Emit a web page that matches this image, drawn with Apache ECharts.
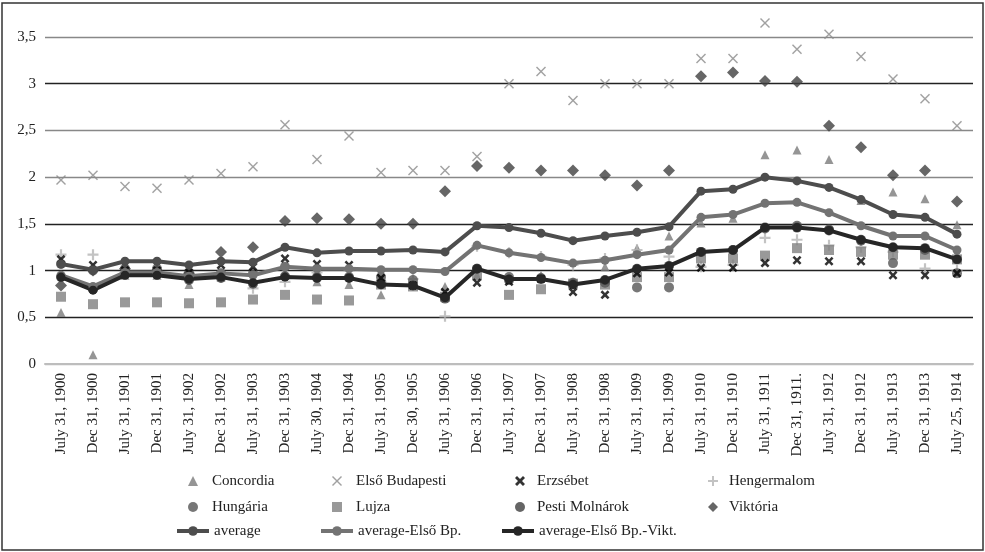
<!DOCTYPE html>
<html>
<head>
<meta charset="utf-8">
<script src="https://cdn.jsdelivr.net/npm/echarts@6/dist/echarts.min.js"></script>
<style>
  html, body { margin: 0; padding: 0; background: #fff; }
  #chart { width: 985px; height: 552px; }
</style>
</head>
<body>
<div id="chart"></div>
<script>
// dates of the balance sheets
const dates = ['July 31, 1900', 'Dec 31, 1900', 'July 31, 1901', 'Dec 31, 1901', 'July 31, 1902',
  'Dec 31, 1902', 'July 31, 1903', 'Dec 31, 1903', 'July 30, 1904', 'Dec 31, 1904', 'July 31, 1905',
  'Dec 30, 1905', 'July 31, 1906', 'Dec 31, 1906', 'July 31, 1907', 'Dec 31, 1907', 'July 31, 1908',
  'Dec 31, 1908', 'July 31, 1909', 'Dec 31, 1909', 'July 31, 1910', 'Dec 31, 1910', 'July 31, 1911',
  'Dec 31, 1911.', 'July 31, 1912', 'Dec 31, 1912', 'July 31, 1913', 'Dec 31, 1913', 'July 25, 1914']

const concordia = [0.55, 0.10, 0.95, 0.95, 0.85, 0.93, 0.90, 0.95, 0.88, 0.85, 0.74, 0.86, 0.83, 0.95, 0.92,
  0.95, 0.88, 1.04, 1.24, 1.37, 1.51, 1.56, 2.24, 2.29, 2.19, 1.75, 1.84, 1.77, 1.49]
const elsoBudapesti = [1.97, 2.02, 1.90, 1.88, 1.97, 2.04, 2.11, 2.56, 2.19, 2.44, 2.05, 2.07, 2.07, 2.22, 3.00,
  3.13, 2.82, 3.00, 3.00, 3.00, 3.27, 3.27, 3.65, 3.37, 3.53, 3.29, 3.05, 2.84, 2.55]
const erzsebet = [1.12, 1.06, 1.00, 1.00, 0.98, 1.06, 1.04, 1.13, 1.07, 1.06, 0.92, 0.84, 0.77, 0.87, 0.88,
  0.91, 0.77, 0.74, 0.97, 0.98, 1.03, 1.03, 1.08, 1.11, 1.10, 1.10, 0.95, 0.95, 0.97]
const hengermalom = [1.17, 1.17, 0.97, 0.97, 0.92, 0.93, 0.81, 0.88, 0.98, 1.00, 0.88, 0.91, 0.51, 1.26, 1.19,
  1.15, 1.06, 1.13, 1.22, 1.15, 1.04, 1.06, 1.35, 1.33, 1.27, 1.25, 1.20, 1.02, 1.00]
const hungaria = [1.07, 1.00, 1.02, 1.02, 0.97, 0.97, 0.97, 1.04, 0.93, 0.93, 0.93, 0.90, 0.72, 1.02, 0.93,
  0.92, 0.87, 0.87, 0.82, 0.82, 1.20, 1.22, 1.45, 1.48, 1.44, 1.32, 1.08, 1.22, 0.97]
const lujza = [0.72, 0.64, 0.66, 0.66, 0.65, 0.66, 0.69, 0.74, 0.69, 0.68, 0.85, 0.83, 0.72, 0.95, 0.74,
  0.80, 0.86, 0.85, 0.93, 0.93, 1.13, 1.13, 1.16, 1.24, 1.22, 1.20, 1.17, 1.17, 1.12]
const pestiMolnarok = [0.93, 0.80, 0.96, 0.96, 0.90, 0.92, 0.86, 0.94, 0.92, 0.92, 0.85, 0.84, 0.70, 1.02, 0.90,
  0.91, 0.85, 0.90, 1.02, 1.05, 1.20, 1.22, 1.46, 1.46, 1.43, 1.33, 1.25, 1.24, 1.12]
const viktoria = [0.84, 1.00, 1.02, 1.00, 0.97, 1.20, 1.25, 1.53, 1.56, 1.55, 1.50, 1.50, 1.85, 2.12, 2.10,
  2.07, 2.07, 2.02, 1.91, 2.07, 3.08, 3.12, 3.03, 3.02, 2.55, 2.32, 2.02, 2.07, 1.74]
const average = [1.07, 1.01, 1.10, 1.10, 1.06, 1.10, 1.09, 1.25, 1.19, 1.21, 1.21, 1.22, 1.20, 1.48, 1.46,
  1.40, 1.32, 1.37, 1.41, 1.47, 1.85, 1.87, 2.00, 1.96, 1.89, 1.76, 1.60, 1.57, 1.39]
const averageNoElso = [0.95, 0.83, 0.98, 0.98, 0.94, 0.97, 0.95, 1.04, 1.02, 1.02, 1.01, 1.01, 0.99, 1.27, 1.19,
  1.14, 1.08, 1.11, 1.17, 1.22, 1.57, 1.60, 1.72, 1.73, 1.62, 1.48, 1.37, 1.37, 1.22]
const averageNoElsoVikt = [0.93, 0.79, 0.95, 0.95, 0.91, 0.93, 0.87, 0.93, 0.92, 0.92, 0.85, 0.84, 0.71, 1.02, 0.91,
  0.91, 0.85, 0.90, 1.02, 1.05, 1.20, 1.22, 1.46, 1.46, 1.43, 1.33, 1.25, 1.24, 1.12]

const serif = 'Liberation Serif'
const crossPath = 'path://M0,1 L1,0 L5,4 L9,0 L10,1 L6,5 L10,9 L9,10 L5,6 L1,10 L0,9 L4,5 Z'
const boldCrossPath = 'path://M0,2 L2,0 L5,3 L8,0 L10,2 L7,5 L10,8 L8,10 L5,7 L2,10 L0,8 L3,5 Z'
const plusPath = 'path://M4,0 H6 V4 H10 V6 H6 V10 H4 V6 H0 V4 H4 Z'

function dots(name, data, symbol, size, color) {
  return {
    name: name, type: 'scatter', data: data, symbol: symbol, symbolSize: size,
    itemStyle: { color: color }, clip: false
  }
}
function avgLine(name, data, color) {
  return {
    name: name, type: 'line', data: data, symbol: 'circle', symbolSize: 9,
    lineStyle: { color: color, width: 4 }, itemStyle: { color: color }
  }
}

const series = [
  dots('Concordia', concordia, 'triangle', 9, '#7a7a7a'),
  dots('Első Budapesti', elsoBudapesti, crossPath, 10, '#8a8a8a'),
  dots('Hengermalom', hengermalom, plusPath, 11, '#b4b4b4'),
  dots('Lujza', lujza, 'rect', 10, '#7f7f7f'),
  dots('Hungária', hungaria, 'circle', 10, '#555555'),
  dots('Pesti Molnárok', pestiMolnarok, 'circle', 10, '#3f3f3f'),
  dots('Viktória', viktoria, 'diamond', 12, '#404040'),
  avgLine('average', average, '#4d4d4d'),
  avgLine('average-Első Bp.', averageNoElso, '#737373'),
  avgLine('average-Első Bp.-Vikt.', averageNoElsoVikt, '#262626'),
  dots('Erzsébet', erzsebet, boldCrossPath, 9, '#000000')
]

// legend layout: [name, column, row]
const legendItems = [
  ['Concordia', 0, 0], ['Első Budapesti', 1, 0], ['Erzsébet', 2, 0], ['Hengermalom', 3, 0],
  ['Hungária', 0, 1], ['Lujza', 1, 1], ['Pesti Molnárok', 2, 1], ['Viktória', 3, 1],
  ['average', 0, 2], ['average-Első Bp.', 1, 2], ['average-Első Bp.-Vikt.', 2, 2]
]
const colMarker = [193, 337, 520, 713]
const colText = [212, 356, 537, 729]
const rowY = [481, 507, 531]

const legends = legendItems.map(([name, col, row]) => {
  const isLine = row === 2
  const w = isLine ? 32 : 10
  const h = isLine ? 12 : 10
  const left = isLine ? colText[col] - 5 - w : colMarker[col] - 5
  const pad = colText[col] - (left + w + 5)
  return {
    left: left, top: rowY[row] - 8, itemWidth: w, itemHeight: h, padding: 0,
    selectedMode: false, data: [name],
    lineStyle: isLine ? { width: 4 } : undefined,
    textStyle: { fontFamily: serif, fontSize: 15, lineHeight: 16, color: '#222', padding: [0, 0, 0, pad] }
  }
})

const chart = echarts.init(document.getElementById('chart'))
chart.setOption({
  animation: false,
  backgroundColor: '#fff',
  grid: { left: 45, right: 12, top: 37, bottom: 188 },
  xAxis: {
    type: 'category',
    data: dates,
    axisLine: { lineStyle: { color: '#bdbdbd', width: 2 } },
    axisTick: { show: false },
    axisLabel: { rotate: 90, interval: 0, margin: 9, fontFamily: serif, fontSize: 15, color: '#222' }
  },
  yAxis: {
    type: 'value', min: 0, max: 3.5, interval: 0.5,
    axisLine: { show: false },
    axisTick: { show: false },
    axisLabel: {
      margin: 9, fontFamily: serif, fontSize: 15, color: '#222',
      formatter: v => String(v).replace('.', ',')
    },
    splitLine: {
      lineStyle: {
        color: ['#bdbdbd', '#222', '#222', '#222', '#888', '#888', '#222', '#888'],
        width: 1.3
      }
    }
  },
  legend: legends,
  graphic: [{
    type: 'rect', z: 100, silent: true,
    shape: { x: 2, y: 3, width: 981, height: 547 },
    style: { fill: 'none', stroke: '#333', lineWidth: 1.5 }
  }],
  series: series
})
</script>
</body>
</html>
